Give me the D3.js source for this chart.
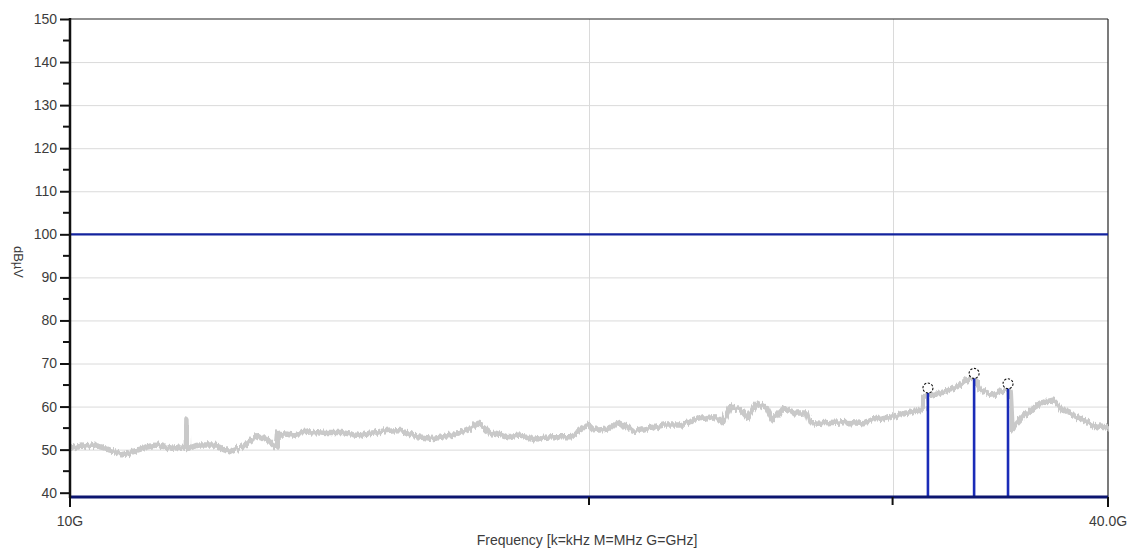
<!DOCTYPE html>
<html>
<head>
<meta charset="utf-8">
<script src="https://cdn.jsdelivr.net/npm/d3@7/dist/d3.min.js"></script>
<style>
  html, body { margin: 0; padding: 0; background: #ffffff; }
  svg { display: block; font-family: "Liberation Sans", Arial, sans-serif; }
</style>
</head>
<body>
<svg id="chart" width="1136" height="550"></svg>
<script>
// Measured spectrum: frequency (GHz) and level (dBµV)
const traceFreqGHz = [
  10.00, 10.15, 10.31, 10.45, 10.55, 10.72, 10.82, 10.94, 11.08, 11.23,
  11.35, 11.47, 11.60, 11.68, 11.69, 11.70, 11.80, 11.90, 12.11, 12.25,
  12.38, 12.50, 12.60, 12.72, 12.84, 13.01, 13.10, 13.15, 13.19, 13.21,
  13.47, 13.65, 13.84, 14.10, 14.35, 14.55, 14.73, 14.93, 15.13, 15.33,
  15.54, 15.70, 15.90, 16.24, 16.45, 16.68, 17.00, 17.25, 17.53, 17.93,
  18.24, 18.56, 18.80, 19.06, 19.50, 19.84, 20.00, 20.11, 20.49, 20.85,
  21.21, 21.61, 22.08, 22.58, 23.10, 23.60, 23.92, 24.14, 24.47, 24.70,
  25.03, 25.37, 25.57, 25.91, 26.40, 26.76, 26.87, 27.48, 28.23, 28.72,
  29.50, 30.30, 31.12, 31.22, 31.26, 31.96, 32.69, 33.36, 33.71, 34.30,
  34.95, 35.10, 35.19, 35.71, 36.53, 37.17, 37.67, 38.53, 39.41, 40.00
];
const traceLevelDb = [
  50.3, 50.8, 51.1, 50.5, 49.9, 48.8, 49.2, 49.9, 50.6, 51.1,
  50.6, 50.3, 50.6, 50.3, 56.9, 50.3, 50.8, 51.1, 51.1, 50.3,
  49.5, 50.2, 50.7, 52.0, 53.0, 52.3, 51.3, 50.7, 50.6, 53.8,
  53.4, 53.9, 54.2, 54.0, 54.0, 53.6, 53.2, 53.8, 54.2, 54.5,
  54.7, 54.0, 53.0, 52.6, 53.0, 53.4, 54.6, 56.1, 53.8, 53.0,
  53.4, 52.3, 52.8, 53.0, 53.0, 55.3, 55.6, 54.6, 55.0, 56.3,
  54.2, 54.7, 55.7, 55.7, 57.0, 57.7, 56.5, 60.0, 59.2, 57.3,
  60.8, 59.6, 56.9, 59.6, 58.5, 58.5, 56.3, 56.0, 56.3, 56.1,
  57.3, 58.1, 59.2, 59.6, 62.3, 63.1, 64.6, 67.0, 63.9, 62.7,
  64.2, 63.8, 54.6, 57.7, 60.8, 61.5, 59.2, 57.3, 55.3, 55.0
];

// Peak markers
const peakFreqGHz = [31.45, 33.45, 35.0];
const peakLevelDb = [64.3, 67.7, 65.3];

// Limit line
const limitDb = 100;

// Axes
const yMajorTicks = [40, 50, 60, 70, 80, 90, 100, 110, 120, 130, 140, 150];
const yMinorTicks = [45, 55, 65, 75, 85, 95, 105, 115, 125, 135, 145];
const xGridGHz = [20, 30];
const xLabelTicks = [10, 40];
const xTickLabels = ["10G", "40.0G"];
const yAxisTitle = "dBµV";
const xAxisTitle = "Frequency [k=kHz M=MHz G=GHz]";

const svg = d3.select("#chart");
const plot = { left: 70, right: 1108, top: 19, bottom: 497 };
const textColor = "#3c3c3c";
const fontSize = 14;

const x = d3.scaleLog().domain([10, 40]).range([plot.left, plot.right]);
const y = d3.scaleLinear().domain([39, 150]).range([plot.bottom, plot.top]);

// Receiver noise texture: fast jitter along the frequency axis
const defs = svg.append("defs");
const jitter = defs.append("filter")
  .attr("id", "jitter")
  .attr("x", "-2%").attr("y", "-50%")
  .attr("width", "104%").attr("height", "200%");
jitter.append("feTurbulence")
  .attr("type", "fractalNoise")
  .attr("baseFrequency", "0.45 0.02")
  .attr("numOctaves", 2)
  .attr("seed", 3)
  .attr("result", "noise");
jitter.append("feDisplacementMap")
  .attr("in", "SourceGraphic")
  .attr("in2", "noise")
  .attr("scale", 7)
  .attr("xChannelSelector", "B")
  .attr("yChannelSelector", "R");

// Gridlines
const grid = svg.append("g");
grid.selectAll("line.h")
  .data(yMajorTicks.filter(v => v > 40 && v < 150 && v !== limitDb))
  .join("line")
  .attr("x1", plot.left).attr("x2", plot.right)
  .attr("y1", d => y(d) + 0.5).attr("y2", d => y(d) + 0.5)
  .attr("stroke", "#dadada").attr("stroke-width", 1);
grid.selectAll("line.v")
  .data(xGridGHz)
  .join("line")
  .attr("x1", d => Math.round(x(d)) + 0.5).attr("x2", d => Math.round(x(d)) + 0.5)
  .attr("y1", plot.top).attr("y2", plot.bottom)
  .attr("stroke", "#dadada").attr("stroke-width", 1);

// Frame: top and right borders
svg.append("line")
  .attr("x1", plot.left).attr("x2", plot.right)
  .attr("y1", plot.top).attr("y2", plot.top)
  .attr("stroke", "#222").attr("stroke-width", 1.2);
svg.append("line")
  .attr("x1", plot.right).attr("x2", plot.right)
  .attr("y1", plot.top).attr("y2", plot.bottom)
  .attr("stroke", "#222").attr("stroke-width", 1.2);

// Spectrum trace
const line = d3.line()
  .x((d, i) => x(traceFreqGHz[i]))
  .y(d => y(d));
svg.append("g")
  .attr("filter", "url(#jitter)")
  .append("path")
  .datum(traceLevelDb)
  .attr("d", line)
  .attr("fill", "none")
  .attr("stroke", "#c9c9c9")
  .attr("stroke-width", 5.5)
  .attr("stroke-linejoin", "round");

// Limit line
svg.append("line")
  .attr("x1", plot.left).attr("x2", plot.right)
  .attr("y1", y(limitDb)).attr("y2", y(limitDb))
  .attr("stroke", "#13239e").attr("stroke-width", 2.2);

// Peak stems
svg.selectAll("line.stem")
  .data(peakLevelDb)
  .join("line")
  .attr("x1", (d, i) => x(peakFreqGHz[i])).attr("x2", (d, i) => x(peakFreqGHz[i]))
  .attr("y1", plot.bottom).attr("y2", d => y(d))
  .attr("stroke", "#1a2cb8").attr("stroke-width", 2.6);

// Peak markers
svg.selectAll("circle.peak")
  .data(peakLevelDb)
  .join("circle")
  .attr("cx", (d, i) => x(peakFreqGHz[i]))
  .attr("cy", d => y(d))
  .attr("r", 5)
  .attr("fill", "#ffffff")
  .attr("stroke", "#111")
  .attr("stroke-width", 1.1)
  .attr("stroke-dasharray", "2.2,1.6");

// Bottom axis line
svg.append("line")
  .attr("x1", plot.left).attr("x2", plot.right)
  .attr("y1", plot.bottom).attr("y2", plot.bottom)
  .attr("stroke", "#0c1670").attr("stroke-width", 3);

// X ticks
svg.selectAll("line.xt")
  .data(xGridGHz.concat(xLabelTicks))
  .join("line")
  .attr("x1", d => x(d)).attr("x2", d => x(d))
  .attr("y1", plot.bottom).attr("y2", d => xLabelTicks.includes(d) ? plot.bottom + 10 : plot.bottom + 8)
  .attr("stroke", "#111").attr("stroke-width", 2);
svg.selectAll("text.xl")
  .data(xLabelTicks)
  .join("text")
  .attr("x", d => x(d))
  .attr("y", 526)
  .attr("text-anchor", "middle")
  .attr("font-size", fontSize)
  .attr("fill", textColor)
  .text((d, i) => xTickLabels[i]);

// Y axis
const yAxis = d3.axisLeft(y)
  .tickValues(yMajorTicks)
  .tickSize(10)
  .tickPadding(3)
  .tickFormat(d3.format("d"));
const gy = svg.append("g")
  .attr("transform", `translate(${plot.left},0)`)
  .call(yAxis);
gy.select(".domain").remove();
gy.selectAll(".tick line").attr("stroke", "#111").attr("stroke-width", 2);
gy.selectAll(".tick text").attr("font-size", fontSize).attr("fill", textColor)
  .attr("font-family", "Liberation Sans, Arial, sans-serif");
svg.selectAll("line.ymin")
  .data(yMinorTicks)
  .join("line")
  .attr("x1", plot.left - 7).attr("x2", plot.left)
  .attr("y1", d => y(d)).attr("y2", d => y(d))
  .attr("stroke", "#111").attr("stroke-width", 2);
svg.append("line")
  .attr("x1", plot.left).attr("x2", plot.left)
  .attr("y1", plot.top - 1).attr("y2", plot.bottom + 1)
  .attr("stroke", "#111").attr("stroke-width", 2.5);

// Axis titles
svg.append("text")
  .attr("transform", `translate(14,262) rotate(90)`)
  .attr("text-anchor", "middle")
  .attr("font-size", 13)
  .attr("fill", textColor)
  .text(yAxisTitle);
svg.append("text")
  .attr("x", 587)
  .attr("y", 545)
  .attr("text-anchor", "middle")
  .attr("font-size", fontSize)
  .attr("fill", textColor)
  .text(xAxisTitle);
</script>
</body>
</html>
